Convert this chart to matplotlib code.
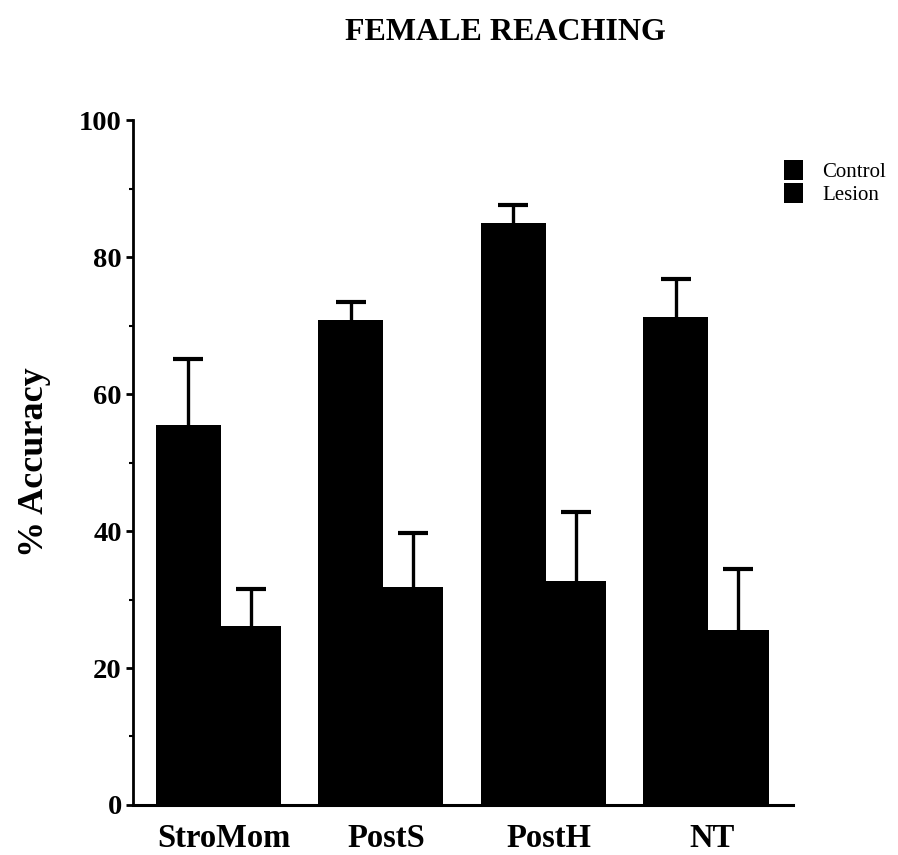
import numpy as np
import matplotlib
matplotlib.use('Agg')
import matplotlib.pyplot as plt
from matplotlib.patches import Patch
from matplotlib.ticker import MultipleLocator

# Data
grupos = ['StroMom', 'PostS', 'PostH', 'NT']
controle = [55.5, 70.8, 85.0, 71.2]
controleErr = [9.6, 2.6, 2.6, 5.6]
lesao = [26.2, 31.8, 32.7, 25.6]
lesaoErr = [5.3, 7.9, 10.1, 8.9]

plt.rcParams['font.family'] = ['Liberation Serif', 'DejaVu Serif']

fig = plt.figure(figsize=(8.98, 8.55), dpi=100)
ax = fig.add_axes([0.148, 0.0585, 0.735, 0.801])

x = np.arange(len(grupos))
errKw = dict(ecolor='black', elinewidth=2.4, capsize=10.5, capthick=3)

barsC = ax.bar(x, controle, width=-0.40, align='edge', color='black',
               yerr=[np.zeros(4), controleErr], error_kw=errKw)
barsL = ax.bar(x, lesao, width=0.37, align='edge', color='black',
               yerr=[np.zeros(4), lesaoErr], error_kw=errKw)

# only the upper half of the error bar is shown
for b in (barsC, barsL):
    caps = b.errorbar.lines[1]
    caps[0].set_visible(False)

ax.set_xlim(-0.54, 3.52)
ax.set_ylim(0, 100)

ax.spines['top'].set_visible(False)
ax.spines['right'].set_visible(False)
ax.spines['left'].set_linewidth(2)
ax.spines['bottom'].set_linewidth(2.2)

ax.set_xticks(x + 0.02)
ax.set_xticklabels(grupos, fontsize=23.5, fontweight='bold')
ax.tick_params(axis='x', length=0, pad=13)

ax.yaxis.set_major_locator(MultipleLocator(20))
ax.yaxis.set_minor_locator(MultipleLocator(10))
ax.tick_params(axis='y', which='major', length=5, width=2, pad=3,
               labelsize=20.5)
ax.tick_params(axis='y', which='minor', length=3, width=1.5)
for lab in ax.get_yticklabels():
    lab.set_fontweight('bold')

ax.set_ylabel('% Accuracy', fontsize=26, fontweight='bold', labelpad=20)

fig.text(0.563, 0.962, 'FEMALE REACHING', ha='center', va='center',
         fontsize=23, fontweight='bold')

handles = [Patch(facecolor='black'), Patch(facecolor='black')]
ax.legend(handles, ['Control', 'Lesion'], loc='upper left',
          bbox_to_anchor=(0.862, 0.825), bbox_transform=fig.transFigure,
          frameon=False, fontsize=15, handlelength=0.9, handleheight=1.1,
          handletextpad=0.9, labelspacing=0.05, borderpad=0)

plt.savefig('out.png', dpi=100)
plt.close(fig)
